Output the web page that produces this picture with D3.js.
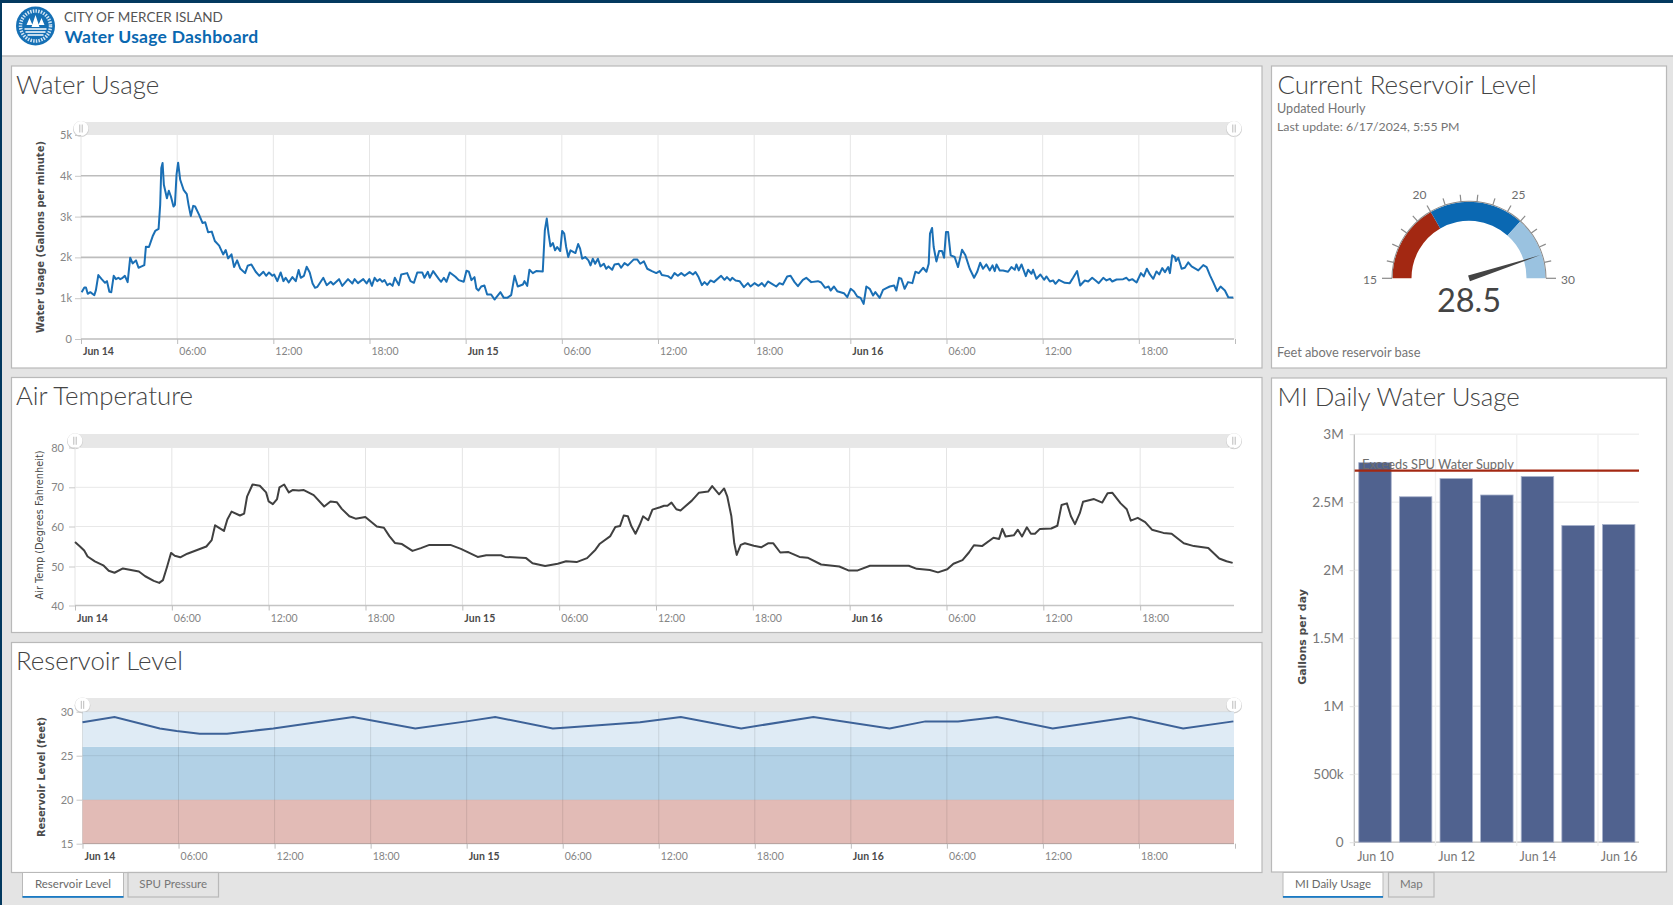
<!DOCTYPE html>
<html>
<head>
<meta charset="utf-8">
<title>Water Usage Dashboard</title>
<script src="https://cdn.jsdelivr.net/npm/d3@7"></script>
<style>
  html, body { margin: 0; padding: 0; background: #e4e4e4; overflow: hidden; }
  svg { display: block; font-family: Lato, "Open Sans", sans-serif; }
  .domain { display: none; }
</style>
</head>
<body>
<script>
// hours since Jun 14 00:00
var usageHours = [0.04,0.21,0.31,0.42,0.58,0.83,0.93,1.08,1.29,1.5,1.62,1.77,1.89,2.04,2.18,2.33,2.45,2.6,2.74,2.91,3.07,3.22,3.43,3.59,3.78,3.95,4.05,4.24,4.47,4.63,4.84,4.94,5.01,5.09,5.17,5.36,5.48,5.61,5.77,5.86,5.96,6.06,6.19,6.4,6.6,6.71,6.85,7.0,7.12,7.37,7.58,7.75,7.93,8.16,8.35,8.62,8.87,9.03,9.18,9.39,9.55,9.74,9.93,10.24,10.4,10.63,10.9,11.13,11.38,11.55,11.73,11.94,12.05,12.25,12.46,12.63,12.77,12.96,13.19,13.4,13.58,13.71,13.91,14.08,14.27,14.45,14.6,14.75,15.12,15.33,15.58,15.74,16.1,16.3,16.66,16.93,17.07,17.28,17.61,17.82,17.99,18.15,18.32,18.48,18.65,18.8,18.94,19.11,19.27,19.44,19.58,19.83,19.98,20.35,20.56,20.77,20.98,21.29,21.43,21.64,21.76,21.97,22.33,22.47,22.64,22.8,23.01,23.36,23.57,23.88,24.05,24.2,24.36,24.55,24.67,
  24.8,24.97,25.17,25.34,25.59,25.8,26.17,26.38,26.59,26.84,27.05,27.25,27.57,27.67,27.84,27.98,28.19,28.4,28.81,28.94,29.06,29.17,29.29,29.44,29.58,29.71,29.9,30.02,30.15,30.27,30.4,30.54,30.85,31.02,31.14,31.27,31.46,31.66,31.79,31.93,32.08,32.25,32.41,32.62,32.77,32.91,33.14,33.29,33.54,33.7,33.91,34.12,34.49,34.7,34.89,35.12,35.33,35.62,35.89,36.1,36.24,36.62,36.82,37.03,37.24,37.45,37.66,37.97,38.18,38.34,38.53,38.74,38.9,39.07,39.28,39.49,39.94,40.15,40.3,40.51,40.63,40.84,41.09,41.36,41.61,41.77,42.02,42.27,42.48,42.65,42.86,43.11,43.38,43.58,43.79,44.06,44.27,44.52,44.73,45.04,45.25,45.56,45.98,46.18,46.43,46.64,46.77,46.98,47.18,47.6,47.81,48.02,48.22,48.43,48.64,48.83,
  49.0,49.21,49.42,49.56,49.83,50.04,50.25,50.46,50.73,50.87,51.04,51.18,51.39,51.6,51.87,52.06,52.27,52.54,52.75,52.89,52.97,53.1,53.2,53.37,53.54,53.72,53.85,53.97,54.1,54.26,54.51,54.72,54.97,55.18,55.45,55.72,55.91,56.1,56.28,56.49,56.7,56.87,57.01,57.12,57.32,57.53,57.84,58.05,58.26,58.36,58.51,58.68,58.95,59.09,59.3,59.4,59.61,59.86,60.09,60.24,60.45,60.65,60.8,61.01,61.38,61.69,61.9,62.15,62.34,62.63,62.84,63.09,63.3,63.5,63.78,63.98,64.19,64.34,64.61,65.02,65.23,65.38,65.59,65.86,66.13,66.31,66.5,66.69,66.9,67.1,67.27,67.46,67.63,67.83,67.94,68.08,68.25,68.31,68.46,68.67,68.87,69.08,69.29,69.71,70.02,70.23,70.44,70.64,70.89,71.1,71.37,71.58,71.89];
var usageGpm = [1148,1262,1262,1107,1148,1074,1197,1566,1467,1377,1418,1156,1148,1549,1467,1500,1467,1500,1549,1394,1992,1853,1927,1746,1779,1812,2263,2255,2517,2648,2697,3288,4190,4313,3780,3452,3632,3493,3247,3288,4026,4321,3903,3657,3550,3288,3017,3263,3247,3042,2845,2861,2615,2632,2402,2287,2074,2181,1976,2074,1763,1927,1730,1615,1795,1828,1648,1549,1648,1549,1631,1549,1582,1418,1631,1418,1500,1385,1517,1418,1689,1500,1549,1771,1631,1361,1254,1279,1500,1320,1402,1336,1467,1303,1467,1361,1467,1369,1467,1361,1467,1303,1500,1418,1467,1402,1443,1320,1361,1303,1500,1320,1582,1615,1418,1377,1631,1631,1500,1648,1500,1664,1467,1402,1500,1402,1631,1525,1443,1402,1672,1648,1443,1517,1238,
  1189,1287,1312,1090,1090,967,1148,1008,1008,1074,1549,1287,1336,1418,1303,1697,1615,1664,1656,2665,2952,2583,2271,2353,2173,2255,2156,2648,2583,2255,2009,2173,2107,2328,2214,1968,2009,1927,1804,1968,1845,1968,1779,1845,1722,1779,1697,1828,1845,1746,1861,1804,1951,1951,1845,1902,1722,1664,1615,1664,1566,1541,1484,1615,1549,1615,1549,1640,1582,1640,1517,1320,1394,1328,1435,1394,1549,1451,1517,1435,1500,1435,1418,1271,1369,1287,1369,1303,1369,1287,1410,1353,1287,1369,1336,1533,1549,1394,1295,1451,1500,1394,1418,1385,1254,1287,1189,1287,1172,1123,1025,1230,1172,1041,1008,861,
  1287,1230,1066,1148,1008,1205,1246,1287,1312,1189,1500,1476,1230,1394,1369,1648,1615,1746,1648,1845,2583,2722,2255,1902,2156,2156,1992,2624,2624,2050,2009,1763,2189,2050,1722,1500,1640,1869,1722,1828,1681,1804,1664,1828,1681,1681,1648,1763,1697,1828,1681,1828,1541,1697,1599,1697,1476,1582,1451,1533,1410,1435,1353,1451,1377,1369,1500,1664,1312,1435,1410,1500,1435,1369,1500,1435,1476,1410,1459,1467,1500,1435,1467,1385,1615,1533,1722,1582,1476,1656,1582,1738,1640,1763,1615,2050,2009,1910,1992,1722,1746,1877,1779,1681,1812,1763,1558,1394,1172,1287,1189,1025,1016];

var airHours = [0,0.31,0.57,0.78,1.23,1.75,2.09,2.45,2.97,3.96,4.35,4.88,5.22,5.45,5.71,5.95,6.18,6.52,6.96,7.61,8.14,8.47,8.68,9.23,9.44,9.7,10.22,10.48,10.66,11.0,11.45,11.84,12.0,12.26,12.52,12.67,12.96,13.25,13.48,13.87,14.18,14.79,15.44,15.83,16.22,16.53,17.0,17.39,17.99,18.7,19.14,19.48,19.82,20.26,20.91,21.43,21.96,23.26,23.91,24.95,25.48,26.39,26.65,27.95,28.35,29.13,29.91,30.43,31.08,31.73,32.25,32.52,33.17,33.48,33.77,34.0,34.26,34.47,34.73,35.0,35.2,35.52,35.78,36.25,36.5,36.71,36.96,37.26,37.52,38.22,38.65,39.23,39.48,39.91,40.22,40.42,40.67,40.85,41.0,41.25,41.51,42.06,42.52,42.94,43.27,43.7,44.21,44.89,45.39,46.23,47.36,47.92,48.5,49.26,51.66,52.16,52.97,53.47,54.05,54.43,54.99,55.39,55.7,56.2,56.91,57.26,57.46,57.66,58.17,58.42,58.68,58.98,59.23,59.48,59.79,60.49,60.87,61.13,61.46,61.71,61.96,62.26,62.46,63.14,63.65,63.98,64.28,64.79,65.17,65.42,65.85,66.31,66.73,67.44,67.95,68.7,69.33,70.22,70.9,71.35,71.73];
var airTemp = [56.1,55,54,52.5,51.3,50.3,48.9,48.4,49.5,48.7,47.5,46.3,45.8,46.5,50,53.4,52.7,52.3,53.2,54.2,55,56.6,60.3,58.9,61.8,63.8,62.8,63.3,67.6,70.7,70.4,68.7,66.4,65.7,67,70,70.7,68.7,69.3,69.2,69.3,68,65.1,66.4,66.2,64.5,62.6,62,62.4,60,59.7,57.6,55.9,55.6,53.9,54.6,55.4,55.4,54.4,52.4,52.8,52.8,52.4,52.1,50.8,50.1,50.7,51.3,51.1,52.1,54.2,55.7,57.6,59.9,60.1,62.8,62.6,60.1,58.2,60.5,62.6,61.6,64.3,64.9,65.3,65.3,66.1,64.4,64.1,66.6,68.6,68.9,70.3,68.2,69.7,67.6,62.6,55.8,52.9,55.4,55.8,55.2,54.8,55.8,55.8,53.5,53.6,52.4,52.2,50.5,50,49,49,50.2,50.2,49.4,49.1,48.5,49.3,50.7,51.6,53.5,55.3,55.1,57.2,56.9,59.4,57.5,57.8,59.2,57.5,59.8,58.2,58.2,59.4,59.5,60.2,65.5,65.9,62.6,60.6,63.4,66.3,67,66.1,68.5,68.6,65.9,64.4,61.5,62.2,61.1,59.2,58.4,58.2,55.8,55.1,54.6,52,51.3,50.9];

var levelHours = [0,2,4.83,5.88,7.32,9.03,11.92,16.91,20.79,24,25.78,29.38,30.3,34.83,37.38,41.15,45.66,50.42,52.66,54.7,57.12,60.61,65.48,68.76,71.9];
var levelFeet = [28.8,29.4,28.1,27.8,27.5,27.5,28.1,29.4,28.1,28.9,29.4,28.1,28.2,28.8,29.4,28.1,29.4,28.1,28.9,28.9,29.4,28.1,29.4,28.1,28.9];

var timeTicks = [0,6,12,18,24,30,36,42,48,54,60,66,72];
var timeLabels = ["Jun 14","06:00","12:00","18:00","Jun 15","06:00","12:00","18:00","Jun 16","06:00","12:00","18:00",""];

var usageTicks = [0,1000,2000,3000,4000,5000];
var usageTickLabels = ["0","1k","2k","3k","4k","5k"];
var airTicks = [40,50,60,70,80];
var levelTicks = [15,20,25,30];
var levelBandEdges = [15,20,26,30];
var levelBandColors = ["#e2bbb6","#b2d1e6","#dfebf5"];

var dailyDays = ["Jun 10","Jun 11","Jun 12","Jun 13","Jun 14","Jun 15","Jun 16"];
var dailyGallons = [2791000,2540000,2674000,2553000,2689000,2329000,2336000];
var dailyTicks = [0,500000,1000000,1500000,2000000,2500000,3000000];
var dailyTickLabels = ["0","500k","1M","1.5M","2M","2.5M","3M"];
var dailyLimit = 2732000;

var gaugeValue = 28.5;
var gaugeRange = [15,30];
var gaugeStops = [15,20,26,30];
var gaugeColors = ["#a32812","#0a68b2","#9ac2e0"];
var gaugeMinor = d3.range(15,31);
var gaugeLabels = [15,20,25,30];

var W = 1673, H = 905;
var textDark = "#4a4a4a", tickGrey = "#858585";

var svg = d3.select("body").append("svg")
    .attr("width", W)
    .attr("height", H);

// page frame
svg.append("rect").attr("width", W).attr("height", H).attr("fill", "#e4e4e4");
svg.append("rect").attr("width", W).attr("height", 56).attr("fill", "#fff");
svg.append("line").attr("x1", 0).attr("x2", W).attr("y1", 56).attr("y2", 56).attr("stroke", "#bdbdbd").attr("stroke-width", 1.5);
svg.append("rect").attr("width", W).attr("height", 3).attr("fill", "#03395f");
svg.append("rect").attr("width", 2).attr("height", H).attr("fill", "#03395f");

// logo
var logo = svg.append("g").attr("transform", "translate(35.5,26)");
logo.append("circle").attr("r", 19.5).attr("fill", "#1570b5");
logo.append("circle").attr("r", 15).attr("fill", "none").attr("stroke", "#cfe3f3").attr("stroke-width", 3.5).attr("stroke-dasharray", "1.5 1.2");
logo.append("circle").attr("r", 12).attr("fill", "#1570b5");
logo.append("path").attr("d", "M-9,-1 L-6,-8 L-3,-1 Z M3,-1 L6,-8 L9,-1 Z M-4,1 L0,-11 L4,1 Z").attr("fill", "#fff");
logo.append("path").attr("d", "M-11,3 H11 M-10,6 H10 M-8,9 H8").attr("stroke", "#fff").attr("stroke-width", 1.6);
svg.append("text").attr("x", 64).attr("y", 22).attr("font-size", 13.5).attr("fill", "#555").text("CITY OF MERCER ISLAND");
svg.append("text").attr("x", 64.5).attr("y", 43).attr("font-size", 17.5).attr("font-weight", 700).attr("letter-spacing", 0.25).attr("fill", "#0a68b0").text("Water Usage Dashboard");

// white cards
var cards = [[11.5,66,1250.5,302],[1271.5,66,395,302],[11.5,377.5,1250.5,255],[1271.5,378,395,494],[11.5,642.5,1250.5,230]];
svg.selectAll("rect.card").data(cards).enter().append("rect")
    .attr("class", "card")
    .attr("x", d => d[0]).attr("y", d => d[1]).attr("width", d => d[2]).attr("height", d => d[3])
    .attr("fill", "#fff").attr("stroke", "#b9b9b9").attr("stroke-width", 1.2);

function title(x, y, txt) {
    svg.append("text").attr("x", x).attr("y", y).attr("font-size", 25.8).attr("font-weight", 300).attr("fill", "#444").text(txt);
}
title(16, 93.5, "Water Usage");
title(16, 405, "Air Temperature");
title(16, 670, "Reservoir Level");
title(1277.5, 93.5, "Current Reservoir Level");
title(1277.5, 406, "MI Daily Water Usage");

// the scroll bar with its two round handles above each time chart
function scrollBar(left, right, top, bottom) {
    svg.append("rect").attr("x", left).attr("y", top).attr("width", right - left).attr("height", bottom - top).attr("fill", "#e7e7e7");
    [left, right].forEach(function (cx) {
        var cy = (top + bottom) / 2;
        svg.append("circle").attr("cx", cx).attr("cy", cy + 0.6).attr("r", 8).attr("fill", "#cfcfcf");
        svg.append("circle").attr("cx", cx).attr("cy", cy).attr("r", 7.4).attr("fill", "#fff");
        svg.append("path").attr("d", "M" + (cx - 1.2) + "," + (cy - 4) + "v8M" + (cx + 1.2) + "," + (cy - 4) + "v8").attr("stroke", "#aaa").attr("stroke-width", 0.8);
    });
}

function bottomAxis(x, y0, tickLen, labelGap) {
    var g = svg.append("g").attr("transform", "translate(0," + y0 + ")")
        .call(d3.axisBottom(x).tickValues(timeTicks).tickSize(tickLen).tickFormat((d, i) => timeLabels[i]));
    g.selectAll("line").attr("stroke", "#bdbdbd");
    g.selectAll("text")
        .attr("dx", (d, i) => i % 4 == 0 ? 17 : 15).attr("y", tickLen + labelGap)
        .attr("font-family", "Lato").attr("font-size", 10.5).attr("fill", (d, i) => i % 4 == 0 ? "#4a4a4a" : tickGrey)
        .attr("font-weight", (d, i) => i % 4 == 0 ? 700 : 400);
    return g;
}

function leftAxis(y, ticks, labels, x0, gap) {
    var g = svg.append("g").attr("transform", "translate(" + x0 + ",0)")
        .call(d3.axisLeft(y).tickValues(ticks).tickSize(gap).tickFormat((d, i) => labels[i]));
    g.selectAll("line").attr("stroke", "#c9c9c9");
    g.selectAll("text").attr("font-family", "Lato").attr("font-size", 11).attr("fill", tickGrey);
    return g;
}

function axisTitle(x, yc, txt, size, weight, font) {
    svg.append("text")
        .attr("transform", "translate(" + x + "," + yc + ") rotate(-90)")
        .attr("text-anchor", "middle")
        .attr("font-family", font).attr("font-size", size).attr("font-weight", weight)
        .attr("fill", textDark)
        .text(txt);
}

// ---- water usage
var usageX = d3.scaleLinear().domain([0, 72]).range([81, 1235]);
var usageY = d3.scaleLinear().domain([0, 5000]).range([339, 135]);
scrollBar(81, 1234, 122, 135);
svg.append("g").selectAll("line").data(timeTicks).enter().append("line")
    .attr("x1", d => usageX(d)).attr("x2", d => usageX(d)).attr("y1", 135).attr("y2", 339)
    .attr("stroke", "#e6e6e6");
svg.append("g").selectAll("line").data(usageTicks.slice(0, 5)).enter().append("line")
    .attr("x1", 81).attr("x2", 1234).attr("y1", d => usageY(d)).attr("y2", d => usageY(d))
    .attr("stroke", "#bdbdbd").attr("stroke-width", 1.6);
bottomAxis(usageX, 339, 5, 3.5);
leftAxis(usageY, usageTicks, usageTickLabels, 81, 6);
axisTitle(44, 237, "Water Usage (Gallons per minute)", 10, 700, "DejaVu Sans");
svg.append("path")
    .attr("d", d3.line().x((d, i) => usageX(usageHours[i])).y(d => usageY(d))(usageGpm))
    .attr("fill", "none").attr("stroke", "#1a6fb5").attr("stroke-width", 2).attr("stroke-linejoin", "round");

// ---- air temperature
var airX = d3.scaleLinear().domain([0, 72]).range([75, 1237]);
var airY = d3.scaleLinear().domain([40, 50, 60, 70, 80]).range([605.5, 566.5, 526.5, 487.3, 447.5]);
scrollBar(75, 1234, 434, 447.5);
svg.append("g").selectAll("line").data(timeTicks.slice(0, 12)).enter().append("line")
    .attr("x1", d => airX(d)).attr("x2", d => airX(d)).attr("y1", 447.5).attr("y2", 605.5)
    .attr("stroke", "#e4e4e4");
svg.append("g").selectAll("line").data(airTicks).enter().append("line")
    .attr("x1", 75).attr("x2", 1234).attr("y1", d => airY(d)).attr("y2", d => airY(d))
    .attr("stroke", d => d == 40 ? "#c4c4c4" : "#e8e8e8").attr("stroke-width", d => d == 40 ? 1.3 : 1);
var airAxis = bottomAxis(airX, 605.5, 5, 4.5);
airAxis.selectAll(".tick").filter(d => d == 72).remove();
leftAxis(airY, airTicks, airTicks, 75, 6).selectAll("text").attr("x", -11);
axisTitle(43, 525, "Air Temp (Degrees Fahrenheit)", 9.8, 400, "DejaVu Sans");
svg.append("path")
    .attr("d", d3.line().x((d, i) => airX(airHours[i])).y(d => airY(d))(airTemp))
    .attr("fill", "none").attr("stroke", "#404040").attr("stroke-width", 2).attr("stroke-linejoin", "round");

// ---- reservoir level
var levelX = d3.scaleLinear().domain([0, 72]).range([82.5, 1235]);
var levelY = d3.scaleLinear().domain([15, 30]).range([843.7, 711.7]);
scrollBar(82.5, 1234, 698, 711.7);
svg.append("g").selectAll("rect").data(levelBandColors).enter().append("rect")
    .attr("x", 82.5).attr("width", 1151.5)
    .attr("y", (d, i) => levelY(levelBandEdges[i + 1]))
    .attr("height", (d, i) => levelY(levelBandEdges[i]) - levelY(levelBandEdges[i + 1]))
    .attr("fill", d => d);
svg.append("g").selectAll("line").data(timeTicks.slice(0, 12)).enter().append("line")
    .attr("x1", d => levelX(d)).attr("x2", d => levelX(d)).attr("y1", 711.7).attr("y2", 843.7)
    .attr("stroke", "#000").attr("stroke-opacity", 0.1);
svg.append("g").selectAll("line").data(levelTicks).enter().append("line")
    .attr("x1", 82.5).attr("x2", 1234).attr("y1", d => levelY(d)).attr("y2", d => levelY(d))
    .attr("stroke", "#000").attr("stroke-opacity", d => d == 15 ? 0.25 : 0.08);
bottomAxis(levelX, 843.7, 5, 3.5);
leftAxis(levelY, levelTicks, levelTicks, 82.5, 6);
axisTitle(45, 777, "Reservoir Level (feet)", 9.8, 700, "DejaVu Sans");
svg.append("path")
    .attr("d", d3.line().x((d, i) => levelX(levelHours[i])).y(d => levelY(d))(levelFeet))
    .attr("fill", "none").attr("stroke", "#3d6298").attr("stroke-width", 2);

// tabs under the cards
function tab(x, w, y, txt, active) {
    svg.append("rect").attr("x", x).attr("y", y).attr("width", w).attr("height", 24.5)
        .attr("fill", active ? "#fff" : "#e4e4e4").attr("stroke", "#b9b9b9").attr("stroke-width", active ? 1 : 1.2);
    if (active) svg.append("rect").attr("x", x).attr("y", y + 23.5).attr("width", w).attr("height", 1.8).attr("fill", "#1a7ac4");
    svg.append("text").attr("x", x + w / 2).attr("y", y + 15).attr("text-anchor", "middle")
        .attr("font-size", 11.5).attr("fill", active ? "#6a6a6a" : "#777").text(txt);
}
tab(22.5, 101, 872.5, "Reservoir Level", true);
tab(128, 90.5, 872.5, "SPU Pressure", false);
tab(1283, 100, 872.5, "MI Daily Usage", true);
tab(1388.5, 45.5, 872.5, "Map", false);

// ---- gauge
var gaugeC = [1469, 278.3];
var gauge = svg.append("g").attr("transform", "translate(" + gaugeC + ")");
var gaugeAngle = d3.scaleLinear().domain(gaugeRange).range([-Math.PI / 2, Math.PI / 2]);
var arc = d3.arc().innerRadius(57.5).outerRadius(76.5);
gauge.selectAll("path.band").data(gaugeColors).enter().append("path")
    .attr("d", (d, i) => arc({ startAngle: gaugeAngle(gaugeStops[i]), endAngle: gaugeAngle(gaugeStops[i + 1]) }))
    .attr("fill", d => d);
gauge.append("path")
    .attr("d", d3.arc().innerRadius(76.5).outerRadius(77.5)({ startAngle: gaugeAngle(15), endAngle: gaugeAngle(30) }))
    .attr("fill", "#8a8a8a");
gauge.selectAll("line.tk").data(gaugeMinor).enter().append("line")
    .attr("x1", d => 77 * Math.sin(gaugeAngle(d))).attr("y1", d => -77 * Math.cos(gaugeAngle(d)))
    .attr("x2", d => (d == 15 || d == 30 ? 87 : 84) * Math.sin(gaugeAngle(d))).attr("y2", d => -(d == 15 || d == 30 ? 87 : 84) * Math.cos(gaugeAngle(d)))
    .attr("stroke", "#8a8a8a").attr("stroke-width", 1.2);
gauge.selectAll("text.lb").data(gaugeLabels).enter().append("text")
    .attr("x", d => 99 * Math.sin(gaugeAngle(d)))
    .attr("y", d => -99 * Math.cos(gaugeAngle(d)) + 6)
    .attr("text-anchor", "middle").attr("font-size", 12).attr("fill", "#6d6d6d")
    .text(d => d);
var needle = gaugeAngle(gaugeValue);
gauge.append("path")
    .attr("d", d3.line()([
        [-3 * Math.cos(needle), -3 * Math.sin(needle)],
        [75 * Math.sin(needle), -75 * Math.cos(needle)],
        [3 * Math.cos(needle), 3 * Math.sin(needle)]
    ]) + "Z")
    .attr("fill", "#444");
svg.append("text").attr("x", 1469).attr("y", 311.5).attr("text-anchor", "middle").attr("font-size", 32.5).attr("fill", "#444").text(gaugeValue);
svg.append("text").attr("x", 1277).attr("y", 113).attr("font-size", 12.6).attr("fill", "#757575").text("Updated Hourly");
svg.append("text").attr("x", 1277).attr("y", 130.5).attr("font-size", 12.3).attr("fill", "#757575").text("Last update: 6/17/2024, 5:55 PM");
svg.append("text").attr("x", 1277).attr("y", 357).attr("font-size", 12.8).attr("fill", "#757575").text("Feet above reservoir base");

// ---- daily bars
var dailyX = d3.scaleBand().domain(dailyDays).range([1354.7, 1639]).paddingInner(0.2).paddingOuter(0.1);
var dailyY = d3.scaleLinear().domain([0, 3000000]).range([842.2, 434.2]);
svg.append("g").selectAll("line").data(dailyTicks).enter().append("line")
    .attr("x1", 1354.7).attr("x2", 1639).attr("y1", d => dailyY(d)).attr("y2", d => dailyY(d))
    .attr("stroke", d => d == 0 ? "#bdbdbd" : "#f0f0f0").attr("stroke-width", d => d == 0 ? 1.3 : 1.5);
svg.append("g").selectAll("line").data(dailyDays.filter((d, i) => i % 2 == 0)).enter().append("line")
    .attr("x1", d => dailyX(d) - dailyX.bandwidth() * 0.125 - 0.4).attr("x2", d => dailyX(d) - dailyX.bandwidth() * 0.125 - 0.4)
    .attr("y1", 434.2).attr("y2", 846)
    .attr("stroke", (d, i) => i == 0 ? "#bdbdbd" : "#f0f0f0").attr("stroke-width", 1.3);
svg.append("g").selectAll("rect").data(dailyGallons).enter().append("rect")
    .attr("x", (d, i) => dailyX(dailyDays[i]))
    .attr("width", dailyX.bandwidth())
    .attr("y", d => dailyY(d))
    .attr("height", d => dailyY(0) - dailyY(d))
    .attr("fill", "#50628f").attr("stroke", "#a9b3cd").attr("stroke-width", 0.8);
svg.append("g").attr("transform", "translate(1354.7,0)")
    .call(d3.axisLeft(dailyY).tickValues(dailyTicks).tickSize(5).tickFormat((d, i) => dailyTickLabels[i]))
    .call(g => g.selectAll("line").attr("stroke", "#e0e0e0"))
    .call(g => g.selectAll("text").attr("x", -11).attr("font-family", "Lato").attr("font-size", 13.5).attr("fill", "#777"));
svg.append("g").selectAll("text").data(dailyDays.filter((d, i) => i % 2 == 0)).enter().append("text")
    .attr("x", d => dailyX(d) + dailyX.bandwidth() / 2 + 0.5).attr("y", 860.5)
    .attr("text-anchor", "middle").attr("font-size", 12.5).attr("fill", "#777")
    .text(d => d);
axisTitle(1306, 637, "Gallons per day", 10.9, 700, "DejaVu Sans");
svg.append("text").attr("x", 1362).attr("y", 468.5).attr("font-size", 12.8).attr("fill", "#6d6d6d").text("Exceeds SPU Water Supply");
svg.append("line").attr("x1", 1354.7).attr("x2", 1639)
    .attr("y1", dailyY(dailyLimit)).attr("y2", dailyY(dailyLimit))
    .attr("stroke", "#a32812").attr("stroke-width", 2.2);
</script>
</body>
</html>
